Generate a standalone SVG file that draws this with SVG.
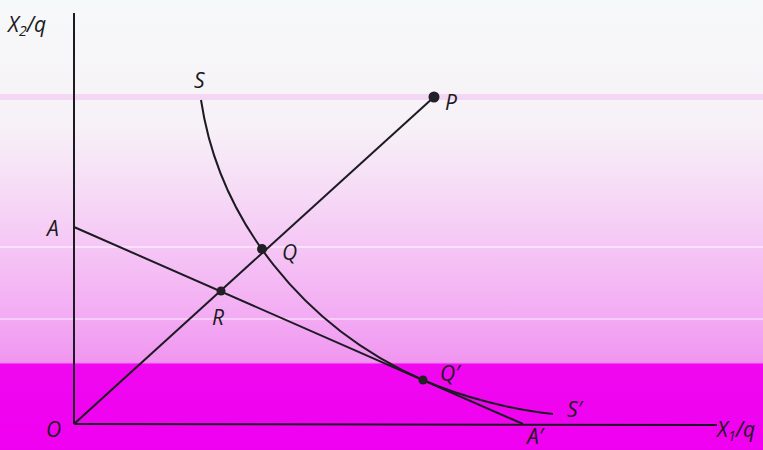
<svg xmlns="http://www.w3.org/2000/svg" width="763" height="450" viewBox="0 0 763 450">
<defs>
<linearGradient id="bg" x1="0" y1="0" x2="0" y2="450" gradientUnits="userSpaceOnUse">
<stop offset="0" stop-color="#f6f9f9"/>
<stop offset="0.28" stop-color="#f7f1f7"/>
<stop offset="0.42" stop-color="#f6dcf6"/>
<stop offset="0.55" stop-color="#f5c6f5"/>
<stop offset="0.7" stop-color="#f3acf3"/>
<stop offset="0.805" stop-color="#f096f0"/>
<stop offset="0.81" stop-color="#f008f0"/>
<stop offset="1" stop-color="#f000f0"/>
</linearGradient>
<style>
.ln{fill:none;stroke:#1c1a22;stroke-width:2}
.dot{fill:#222026}
.lb{font-family:"Open Sans","Liberation Sans",sans-serif;font-style:italic;font-size:21px;fill:#1c1a22}
</style>
</defs>
<rect width="763" height="450" fill="url(#bg)"/>
<rect x="0" y="94" width="763" height="6" fill="#f2cbf2" opacity="0.7"/>
<rect x="0" y="246" width="763" height="2" fill="#ffffff" opacity="0.5"/>
<rect x="0" y="318" width="763" height="2" fill="#ffffff" opacity="0.4"/>
<g id="connectors">
<line class="ln" x1="74" y1="13" x2="74" y2="424"/>
<line class="ln" x1="74" y1="424" x2="717" y2="425"/>
<line class="ln" x1="74" y1="424" x2="434" y2="97"/>
<line class="ln" x1="74" y1="227" x2="523" y2="424"/>
<path class="ln" d="M201,100 C219,220 303,327 423,380 C463,397.5 513,410 553,414"/>
</g>
<g id="axis-x2"><text class="lb" x="8" y="32">X<tspan font-size="14" dy="4">2</tspan><tspan dy="-4">/q</tspan></text></g>
<g id="axis-x1"><text class="lb" x="717" y="437">X<tspan font-size="14" dy="4">1</tspan><tspan dy="-4">/q</tspan></text></g>
<g id="node-O"><text class="lb" x="46" y="437">O</text></g>
<g id="node-A"><text class="lb" x="47" y="236">A</text></g>
<g id="node-A-prime"><text class="lb" x="527" y="444">A′</text></g>
<g id="node-S"><text class="lb" x="194" y="88">S</text></g>
<g id="node-S-prime"><text class="lb" x="567" y="417">S′</text></g>
<g id="node-P"><circle class="dot" cx="434" cy="97" r="5.5"/><text class="lb" x="445" y="110">P</text></g>
<g id="node-Q"><circle class="dot" cx="262" cy="249" r="5"/><text class="lb" x="282" y="260">Q</text></g>
<g id="node-R"><circle class="dot" cx="221" cy="291" r="4.5"/><text class="lb" x="212" y="325">R</text></g>
<g id="node-Q-prime"><circle class="dot" cx="423" cy="380" r="4.5"/><text class="lb" x="440" y="381">Q′</text></g>
</svg>
